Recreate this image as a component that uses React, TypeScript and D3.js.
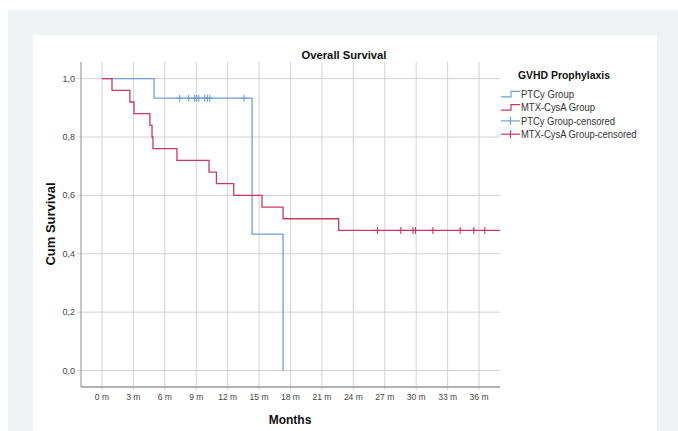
import React from "react";
import * as d3 from "d3";

const ptcyTime = [0, 4.97, 14.33, 17.29];
const ptcySurv = [1.0, 0.933, 0.467, 0.0];
const ptcyCensorTime = [7.42, 8.28, 8.85, 9.04, 9.24, 9.81, 10.07, 10.29, 13.56];
const ptcyCensorSurv = [0.933, 0.933, 0.933, 0.933, 0.933, 0.933, 0.933, 0.933, 0.933];

const mtxTime = [0, 0.96, 2.67, 3.06, 4.58, 4.78, 4.87, 7.16, 10.22, 10.93, 12.58, 15.28, 17.29, 22.6, 38];
const mtxSurv = [1.0, 0.96, 0.92, 0.88, 0.84, 0.8, 0.76, 0.72, 0.68, 0.64, 0.6, 0.56, 0.52, 0.48, 0.48];
const mtxCensorTime = [26.3, 28.53, 29.7, 29.93, 31.6, 34.2, 35.5, 36.55];
const mtxCensorSurv = [0.48, 0.48, 0.48, 0.48, 0.48, 0.48, 0.48, 0.48];

const xTicks = [0, 3, 6, 9, 12, 15, 18, 21, 24, 27, 30, 33, 36];
const yTicks = [0, 0.2, 0.4, 0.6, 0.8, 1.0];
const legendLabels = ["PTCy Group", "MTX-CysA Group", "PTCy Group-censored", "MTX-CysA Group-censored"];
const legendWidths = [53, 74, 94, 115.5];

const BLUE = "#6f9fd6";
const RED = "#c93a60";
const FONT = "'Liberation Sans', Arial, sans-serif";

export default function App() {
  const left = 81, right = 500, top = 62, bottom = 387;
  const x = d3.scaleLinear().domain([-2, 38]).range([left, right]);
  const y = d3.scaleLinear().domain([-0.0565, 1.057]).range([bottom, top]);

  const line = d3
    .line<[number, number]>()
    .x((d) => x(d[0]))
    .y((d) => y(d[1]))
    .curve(d3.curveStepAfter);

  const ptcyPts: [number, number][] = ptcyTime.map((t, i) => [t, ptcySurv[i]]);
  const mtxPts: [number, number][] = mtxTime.map((t, i) => [t, mtxSurv[i]]);

  const censor = (ts: number[], ss: number[], color: string) =>
    ts.map((t, i) => (
      <g key={i} stroke={color} strokeWidth={1.1}>
        <line x1={x(t)} x2={x(t)} y1={y(ss[i]) - 3.5} y2={y(ss[i]) + 3.5} />
        <line x1={x(t) - 3} x2={x(t) + 3} y1={y(ss[i])} y2={y(ss[i])} />
      </g>
    ));

  const legColors = [BLUE, RED, BLUE, RED];
  const legY0 = 94.3, legDy = 13.3;

  return (
    <svg
      width={678}
      height={431}
      style={{ position: "absolute", left: 0, top: 0 }}
      fontFamily={FONT}
    >
      <rect x={0} y={0} width={678} height={431} fill="#ffffff" />
      <rect x={8} y={10} width={670} height={421} fill="#f1f2f4" />
      <rect x={33} y={35} width={624} height={396} fill="#ffffff" />

      <text
        x={301.5}
        y={59}
        fontSize={11.5}
        fontWeight="bold"
        fill="#111"
        textLength={85}
        lengthAdjust="spacingAndGlyphs"
      >
        Overall Survival
      </text>

      {/* grid */}
      {xTicks.map((t) => (
        <line key={"gx" + t} x1={x(t)} x2={x(t)} y1={top} y2={bottom + 3} stroke="#d2d2d2" strokeWidth={1} />
      ))}
      {yTicks.map((t) => (
        <line key={"gy" + t} x1={left - 4} x2={right} y1={y(t)} y2={y(t)} stroke="#d2d2d2" strokeWidth={1} />
      ))}

      {/* axes */}
      <line x1={left} x2={left} y1={top} y2={bottom} stroke="#8c8c8c" strokeWidth={1} />
      <line x1={left} x2={right} y1={bottom} y2={bottom} stroke="#9a9a9a" strokeWidth={1.6} />

      {yTicks.map((t) => (
        <text key={"ty" + t} x={75} y={y(t) + 3} textAnchor="end" fontSize={9} fill="#444">
          {d3.format(".1f")(t).replace(".", ",")}
        </text>
      ))}
      {xTicks.map((t) => (
        <text key={"tx" + t} x={x(t)} y={400} textAnchor="middle" fontSize={8.5} fill="#444">
          {t + " m"}
        </text>
      ))}

      <text x={290} y={424} textAnchor="middle" fontSize={12} fontWeight="bold" fill="#111">
        Months
      </text>
      <text
        transform={`translate(55,224) rotate(-90)`}
        textAnchor="middle"
        fontSize={13}
        fontWeight="bold"
        fill="#111"
      >
        Cum Survival
      </text>

      {/* curves */}
      <path d={line(ptcyPts) || ""} fill="none" stroke={BLUE} strokeWidth={1.3} />
      <path d={line(mtxPts) || ""} fill="none" stroke={RED} strokeWidth={1.3} />
      {censor(ptcyCensorTime, ptcyCensorSurv, BLUE)}
      {censor(mtxCensorTime, mtxCensorSurv, RED)}

      {/* legend */}
      <text
        x={518}
        y={79}
        fontSize={11.5}
        fontWeight="bold"
        fill="#111"
        textLength={92}
        lengthAdjust="spacingAndGlyphs"
      >
        GVHD Prophylaxis
      </text>
      {legendLabels.map((lab, i) => {
        const ly = legY0 + i * legDy;
        const c = legColors[i];
        const sym =
          i < 2 ? (
            <path
              d={`M501,${ly + 2.5}H511V${ly - 3}H520`}
              fill="none"
              stroke={c}
              strokeWidth={1.2}
            />
          ) : (
            <g stroke={c} strokeWidth={1.2}>
              <line x1={501} x2={520} y1={ly} y2={ly} />
              <line x1={510.5} x2={510.5} y1={ly - 4} y2={ly + 4} />
            </g>
          );
        return (
          <g key={lab}>
            {sym}
            <text
              x={521}
              y={ly + 3.6}
              fontSize={10.5}
              fill="#333"
              textLength={legendWidths[i]}
              lengthAdjust="spacingAndGlyphs"
            >
              {lab}
            </text>
          </g>
        );
      })}
    </svg>
  );
}
